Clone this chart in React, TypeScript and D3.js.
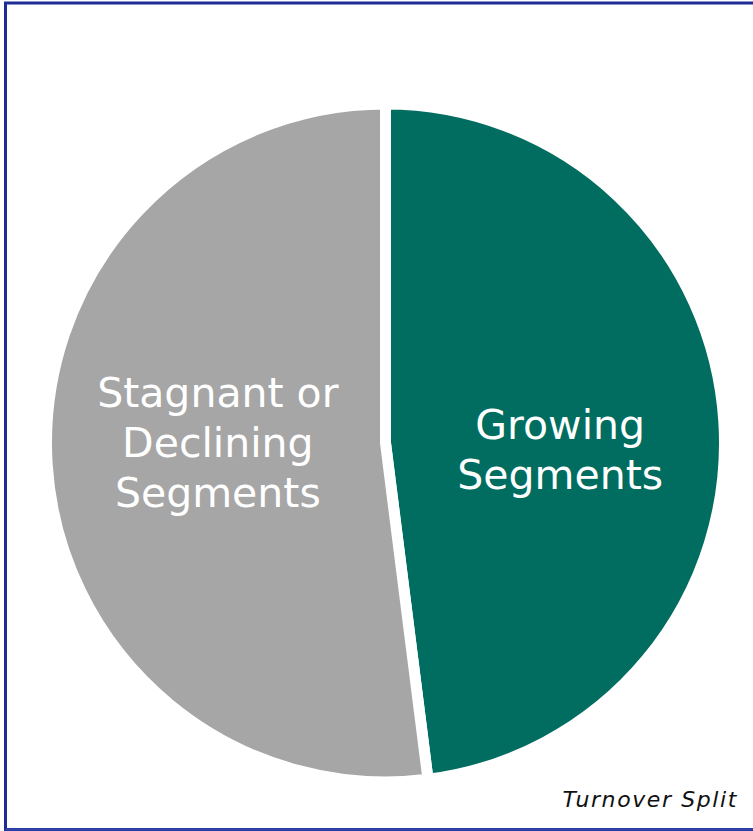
import React, { useEffect } from "react";
import * as d3 from "d3";

const categories = ["Growing Segments", "Stagnant or Declining Segments"];
const shares = [48, 52];
const labelLines = [["Growing", "Segments"], ["Stagnant or", "Declining", "Segments"]];
const colors = ["#006D60", "#A6A6A6"];
const footnote = "Turnover Split";

const W = 753;
const H = 831;

export default function App() {
  useEffect(() => {
    document.body.style.margin = "0";
  }, []);

  const cx = 385.5;
  const cy = 443;
  const r = 339;

  const data = categories.map((c, i) => ({ name: c, value: shares[i], lines: labelLines[i], color: colors[i] }));
  const pie = d3.pie<any>().value((d) => d.value).sort(null).startAngle(0).endAngle(2 * Math.PI);
  const arcs = pie(data);
  const arc = d3.arc<any>().innerRadius(0).outerRadius(r);
  const labelArc = d3.arc<any>().innerRadius(172).outerRadius(172);
  const labelAdjust = [[3, 17], [4, -12]];
  const lineH = 50;
  const fontSize = 41;

  return (
    <svg width={W} height={H} style={{ display: "block" }}>
      <rect x={0} y={0} width={W} height={H} fill="#ffffff" />
      <g transform={`translate(${cx},${cy})`}>
        {arcs.map((a, i) => (
          <path key={i} d={arc(a) || ""} fill={a.data.color} stroke="#ffffff" strokeWidth={11} strokeLinejoin="miter" />
        ))}
        {arcs.map((a, i) => {
          const [lx, ly] = labelArc.centroid(a);
          const n = a.data.lines.length;
          const x = lx + labelAdjust[i][0];
          const y = ly + labelAdjust[i][1];
          return (
            <text
              key={"t" + i}
              x={x}
              y={y}
              textAnchor="middle"
              fill="#ffffff"
              fontFamily="'DejaVu Sans', sans-serif"
              fontSize={fontSize}
              fontWeight={400}
            >
              {a.data.lines.map((l: string, j: number) => (
                <tspan key={j} x={x} y={y + (j - (n - 1) / 2) * lineH + fontSize * 0.36}>
                  {l}
                </tspan>
              ))}
            </text>
          );
        })}
      </g>
      <path d={`M ${W + 5} 3 L 5.5 3 L 5.5 829.5 L ${W + 5} 829.5`} fill="none" stroke="#1E2D96" strokeWidth={3} />
      <path d={`M 5.5 829.5 L ${W + 5} 829.5`} fill="none" stroke="#3347AE" strokeWidth={2} />
      <text
        x={738}
        y={807}
        textAnchor="end"
        fontFamily="'DejaVu Sans', sans-serif"
        fontStyle="italic"
        fontSize={22}
        letterSpacing={1.6}
        fill="#111111"
      >
        {footnote}
      </text>
    </svg>
  );
}
